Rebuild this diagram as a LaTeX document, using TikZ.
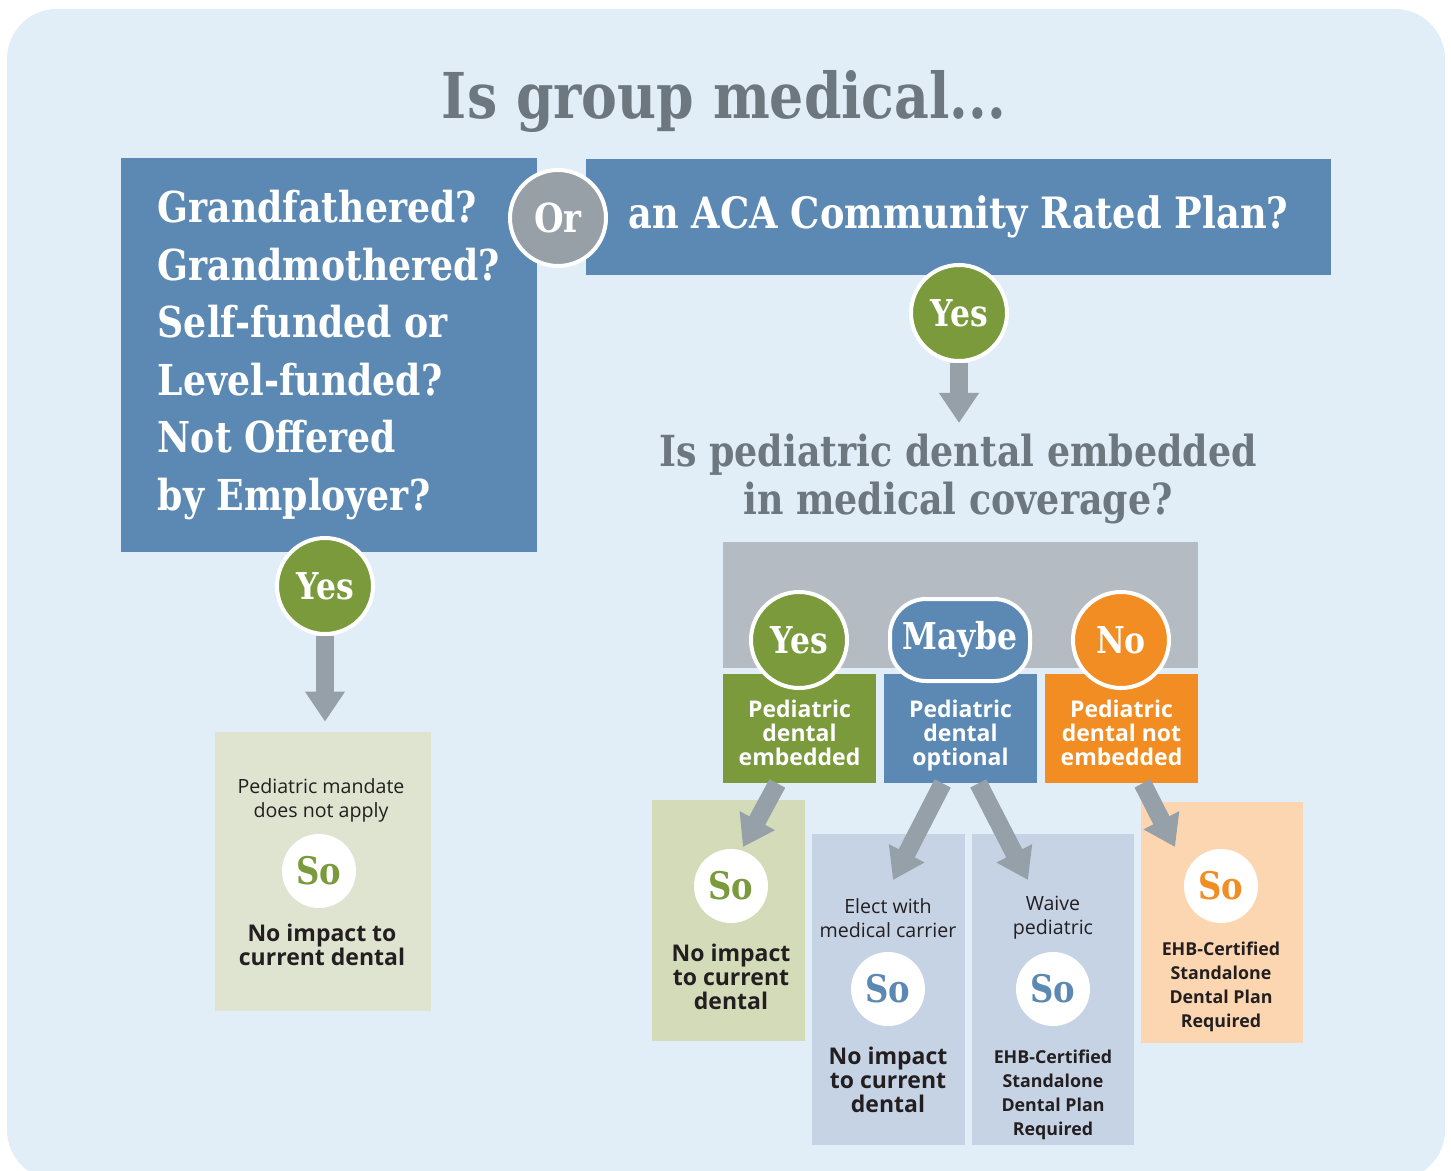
\documentclass[tikz,border=0pt]{standalone}
\usepackage{fontspec}
\setmainfont{Open Sans}
\newfontfamily\slabfont[FakeStretch=0.85]{DejaVu Serif}
\usetikzlibrary{arrows.meta}
\definecolor{bgblue}{HTML}{E1EDF7}
\definecolor{qblue}{HTML}{5B89B3}
\definecolor{orgray}{HTML}{979FA7}
\definecolor{ansgreen}{HTML}{7A9A3C}
\definecolor{ansorange}{HTML}{F18D22}
\definecolor{bargray}{HTML}{B4BBC2}
\definecolor{arrgray}{HTML}{96A0A8}
\definecolor{sage}{HTML}{DFE4D0}
\definecolor{sagedark}{HTML}{D3DBB9}
\definecolor{paleblue}{HTML}{C6D3E5}
\definecolor{peach}{HTML}{FCD6B0}
\definecolor{titlegray}{HTML}{6C7780}
\definecolor{ink}{HTML}{231F20}
\newcommand{\strutup}[1][12.7pt]{\rule{0pt}{#1}}

\begin{document}
\begin{tikzpicture}[x=0.5pt,y=-0.5pt,
    qbox/.style={fill=qblue,text=white,font=\slabfont\bfseries\fontsize{21.3}{28.75}\selectfont},
    ans/.style={circle,draw=white,line width=2pt,minimum size=48pt,inner sep=0pt,text=white,font=\slabfont\bfseries\fontsize{18.5}{18.5}\selectfont},
    so/.style={circle,fill=white,minimum size=37pt,inner sep=0pt,font=\slabfont\bfseries\fontsize{19}{19}\selectfont},
    tag/.style={text=white,inner sep=0pt,font=\bfseries\fontsize{11.5}{12}\selectfont,align=center},
    panel/.style={inner sep=0pt},
    lighttext/.style={text=ink,font=\fontsize{9.8}{12}\selectfont,align=center},
    boldtext/.style={text=ink,font=\bfseries\fontsize{11.5}{12}\selectfont,align=center},
    smallbold/.style={text=ink,font=\bfseries\fontsize{8.9}{12}\selectfont,align=center},
    fat/.style={draw=arrgray,line width=9pt,-{Triangle[width=19pt,length=15pt]}}]
    \clip (0,0) rectangle (1451,1171);
    \useasboundingbox (0,0) rectangle (1451,1171);
    \fill[bgblue,rounded corners=25pt] (7,9) rectangle (1445,1180);

    \node[text=titlegray,font=\slabfont\bfseries\fontsize{31.6}{31.6}\selectfont] (title) at (724,102) {Is group medical...};

    % the two kinds of group medical
    \node[qbox,minimum width=208pt,minimum height=197pt,align=left] (exempt) at (329,355)
        {Grandfathered?\\Grandmothered?\\Self-funded or\\Level-funded?\\Not Offered\\by Employer?};
    \node[qbox,font=\slabfont\bfseries\fontsize{21.6}{21.6}\selectfont,minimum width=372.5pt,minimum height=58pt] (aca) at (958.5,217) {an ACA Community Rated Plan?};
    \node[ans,fill=orgray,font=\slabfont\bfseries\fontsize{20}{20}\selectfont] (or) at (558,218) {Or};

    % left branch
    \node[ans,fill=ansgreen] (yesL) at (325,586) {Yes};
    \node[panel,fill=sage,minimum width=108pt,minimum height=139.5pt] (mandate) at (323,871.5) {};
    \node[lighttext] (mandtop) at (321,800) {Pediatric mandate\\does not apply};
    \node[so,text=ansgreen] (soL) at (319,871) {So};
    \node[boldtext] (mandbot) at (322,945) {No impact to\\current dental};
    \draw[fat,shorten >=5pt] (yesL) -- (yesL |- mandate.north);

    % right branch
    \node[ans,fill=ansgreen] (yesR) at (959,313) {Yes};
    \coordinate (qtip) at (959,423);
    \draw[fat] (yesR) -- (qtip);
    \node[text=titlegray,font=\slabfont\bfseries\fontsize{21.4}{24}\selectfont,align=center] (pedq) at (958,479)
        {Is pediatric dental embedded\\in medical coverage?};

    \node[panel,fill=bargray,minimum width=237.5pt,minimum height=63pt] (bar) at (960.5,605) {};
    \node[tag,fill=ansgreen,minimum width=76.5pt,minimum height=54.5pt] (pyes) at (799.5,728.5) {\strutup Pediatric\\dental\\embedded};
    \node[tag,fill=qblue,minimum width=76.5pt,minimum height=54.5pt] (pmaybe) at (960.5,728.5) {\strutup[15.5pt]Pediatric\\dental\\optional};
    \node[tag,fill=ansorange,minimum width=76.5pt,minimum height=54.5pt] (pno) at (1121.5,728.5) {\strutup Pediatric\\dental not\\embedded};
    \node[ans,fill=ansgreen] (yesP) at (799,640) {Yes};
    \node[ans,rectangle,rounded corners=18pt,minimum width=70pt,minimum height=41pt,fill=qblue] (maybeP) at (960,640) {Maybe};
    \node[ans,fill=ansorange] (noP) at (1121,640) {No};

    % outcomes
    \node[panel,fill=sagedark,minimum width=76.5pt,minimum height=120.5pt] (outyes) at (728.5,920.5) {};
    \node[so,text=ansgreen] (soY) at (731,886) {So};
    \node[boldtext] (txtY) at (731,977) {No impact\\to current\\dental};

    \node[panel,fill=paleblue,minimum width=76.5pt,minimum height=155.5pt] (outelect) at (888.5,989.5) {};
    \node[lighttext] (topE) at (888,918) {Elect with\\medical carrier};
    \node[so,text=qblue] (soE) at (888,989) {So};
    \node[boldtext] (txtE) at (888,1080) {No impact\\to current\\dental};

    \node[panel,fill=paleblue,minimum width=81pt,minimum height=155.5pt] (outwaive) at (1053,989.5) {};
    \node[lighttext] (topW) at (1053,918) {Waive\\pediatric};
    \node[so,text=qblue] (soW) at (1053,989) {So};
    \node[smallbold] (txtW) at (1053,1095) {EHB-Certified\\Standalone\\Dental Plan\\Required};

    \node[panel,fill=peach,minimum width=81pt,minimum height=120.5pt] (outno) at (1222,922.5) {};
    \node[so,text=ansorange] (soN) at (1221,886) {So};
    \node[smallbold] (txtN) at (1221,987) {EHB-Certified\\Standalone\\Dental Plan\\Required};

    \coordinate (tipY) at (743,847);
    \coordinate (tipE) at (893,880);
    \coordinate (tipW) at (1028,880);
    \coordinate (tipN) at (1175,847);
    \draw[fat] (pyes.-112) -- (tipY);
    \draw[fat] (pmaybe.-108) -- (tipE);
    \draw[fat] (pmaybe.-72) -- (tipW);
    \draw[fat] (pno.-69) -- (tipN);
\end{tikzpicture}
\end{document}
